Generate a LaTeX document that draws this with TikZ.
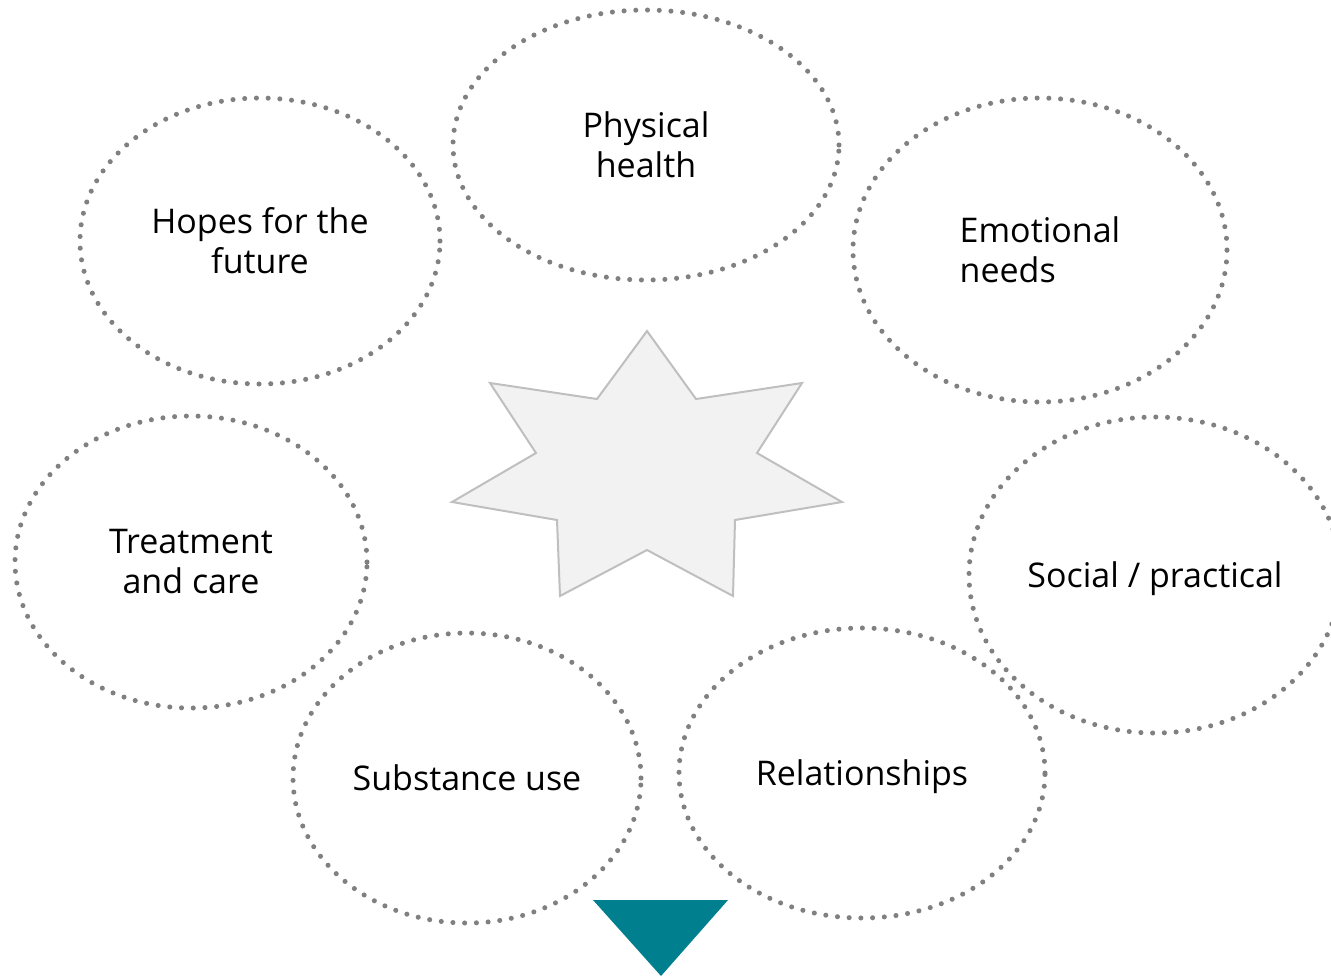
\documentclass[tikz,border=0pt]{standalone}
\usepackage{fontspec}
\setmainfont{Open Sans}
\usetikzlibrary{shapes.geometric}
\definecolor{dotgray}{HTML}{808080}
\definecolor{starfill}{HTML}{F2F2F2}
\definecolor{starline}{HTML}{BFBFBF}
\definecolor{tealmark}{HTML}{007F8E}
\tikzset{
  topic/.style={ellipse, draw=dotgray, line width=3.8pt, line cap=round,
    dash pattern=on 0pt off 8.8pt, inner sep=0pt, align=center,
    font=\fontsize{25.5}{30}\selectfont},
}
\begin{document}
\begin{tikzpicture}[x=0.75pt,y=-0.75pt]

 \useasboundingbox (0,0) rectangle (1331,976);
 \clip (0,0) rectangle (1331,976);

 % the star in the middle
 \draw[fill=starfill, draw=starline, line width=1.5pt, line join=miter]
   (647,331) -- (696,399) -- (802,383) -- (757,453) -- (842,502) -- (735,520)
   -- (733,596) -- (647,550) -- (560,596) -- (557,520) -- (452,502)
   -- (536,453) -- (490,383) -- (597,399) -- cycle;

 % the topics round it (sizes in pt: 0.75 of the pixel size)
 \node[topic, minimum width=289.5pt, minimum height=202.5pt] (physical) at (646,145) {Physical\\health};
 \node[topic, minimum width=270pt, minimum height=214.5pt] (hopes) at (260,241) {Hopes for the\\future};
 \node[topic, minimum width=280.5pt, minimum height=228pt, align=left] (emotional) at (1040,250) {Emotional\\needs};
 \node[topic, minimum width=264pt, minimum height=219pt] (treatment) at (191,562) {Treatment\\and care};
 \node[topic, minimum width=279pt, minimum height=237pt, text depth=0pt] (social) at (1155,575) {Social / practical};
 \node[topic, minimum width=261pt, minimum height=217.5pt] (substance) at (467,778) {Substance use};
 \node[topic, minimum width=274.5pt, minimum height=217.5pt, text depth=0pt] (relations) at (862,773) {Relationships};

 % marker at the bottom
 \coordinate (tl) at (593,900);
 \coordinate (tr) at (728,900);
 \coordinate (tip) at (661,976);
 \fill[tealmark] (tl) -- (tr) -- (tip) -- cycle;

\end{tikzpicture}
\end{document}
